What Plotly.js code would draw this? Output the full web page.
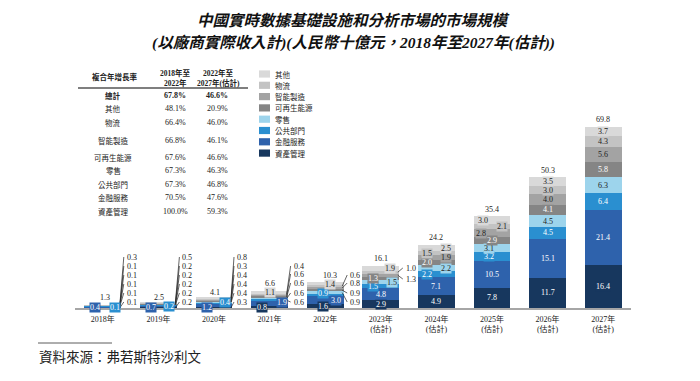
<!DOCTYPE html>
<html><head><meta charset="utf-8">
<script src="https://cdn.plot.ly/plotly-3.0.1.min.js"></script>
<style>body{margin:0;background:#fff}#chart{width:700px;height:381px}</style>
</head><body><div id="chart"></div>
<script>
// ---------------- DATA ----------------
const years = ['2018年','2019年','2020年','2021年','2022年','2023年<br>(估計)','2024年<br>(估計)','2025年<br>(估計)','2026年<br>(估計)','2027年<br>(估計)'];
const seriesNames = ['資產管理','金融服務','公共部門','零售','可再生能源','智能製造','物流','其他'];
const assetMgmt  = [0.1,0.2,0.3,0.8,1.6,2.9,4.9,7.8,11.7,16.4];
const finServ    = [0.4,0.7,1.2,1.9,3.0,4.8,7.1,10.5,15.1,21.4];
const publicSec  = [0.1,0.2,0.4,0.6,0.9,1.5,2.2,3.2,4.5,6.4];
const retail     = [0.1,0.2,0.4,0.6,0.9,1.5,2.2,3.1,4.5,6.3];
const renewable  = [0.1,0.2,0.4,0.6,0.9,1.3,2.0,2.9,4.1,5.8];
const smartMfg   = [0.1,0.2,0.4,0.6,0.8,1.3,1.9,2.8,4.0,5.6];
const logistics  = [0.1,0.2,0.3,0.4,0.6,1.0,1.5,2.1,3.0,4.3];
const others     = [0.3,0.5,0.8,1.1,1.4,1.9,2.5,3.0,3.5,3.7];
const totals     = [1.3,2.5,4.1,6.6,10.3,16.1,24.2,35.4,50.3,69.8];

const cagrRowLabels = ['總計','其他','物流','智能製造','可再生能源','零售','公共部門','金融服務','資產管理'];
const cagr2018to2022 = ['67.8%','48.1%','66.4%','66.8%','67.6%','67.3%','67.3%','70.5%','100.0%'];
const cagr2022to2027 = ['46.6%','20.9%','46.0%','46.1%','46.6%','46.3%','46.8%','47.6%','59.3%'];

const titleLine1 = '中國實時數據基礎設施和分析市場的市場規模';
const titleLine2 = '(以廠商實際收入計)(人民幣十億元，2018年至2027年(估計))';
const sourceText = '資料來源：弗若斯特沙利文';

// ---------------- STYLE ----------------
const seriesVals = [assetMgmt, finServ, publicSec, retail, renewable, smartMfg, logistics, others];
const colors = ['#17375e','#2e62ac','#2a8fd0','#9dd4ec','#858585','#a3a3a3','#c3c3c3','#d9d9d9'];
const textColors = ['#ffffff','#ffffff','#ffffff','#222222','#ffffff','#222222','#222222','#222222'];
const SERIF = '"Liberation Serif", "Noto Sans CJK TC", serif';
const CJK = '"Noto Sans CJK TC", "Liberation Serif", sans-serif';

const L=75, R=631, T=100, B=308;
const PXU = (R-L)/years.length;   // px per category
const YPX = 2.593;                // px per unit
const YMAX = (B-T)/YPX;
const px = x => (x-L)/(R-L);
const py = y => (B-y)/(B-T);
const yData = p => (B-p)/YPX;

// label placement (pixel positions / modes) per year, keyed by series index
const place = [
 {lx:22, tot:{dx:2,p:297}, s:{0:{m:'lead',p:302},1:{m:'box',dx:-8,p:307},2:{m:'box',dx:12,p:307},3:{m:'lead',p:293},4:{m:'lead',p:284},5:{m:'lead',p:275},6:{m:'lead',p:266},7:{m:'lead',p:257}}},
 {lx:22, tot:{dx:1,p:297}, s:{0:{m:'lead',p:302},1:{m:'box',dx:-7,p:307},2:{m:'box',dx:11,p:306},3:{m:'lead',p:293},4:{m:'lead',p:284},5:{m:'lead',p:275},6:{m:'lead',p:266},7:{m:'lead',p:257}}},
 {lx:21, tot:{dx:1,p:292}, s:{0:{m:'lead',p:302},1:{m:'box',dx:-7,p:307},2:{m:'box',dx:11,p:302},3:{m:'lead',p:293},4:{m:'lead',p:284},5:{m:'lead',p:275},6:{m:'lead',p:266},7:{m:'lead',p:257}}},
 {lx:22, tot:{dx:0,p:283}, s:{0:{m:'box',dx:-8,p:307},1:{m:'box',dx:12,p:302},2:{m:'lead',p:302},3:{m:'lead',p:293},4:{m:'lead',p:283},5:{m:'lead',p:274},6:{m:'lead',p:266},7:{m:'box',dx:0,p:292}}},
 {lx:23, tot:{dx:5,p:275}, s:{0:{m:'box',dx:-2,p:306},1:{m:'box',dx:11,p:300},2:{m:'box',dx:-2,p:293},3:{m:'lead',p:302},4:{m:'lead',p:293},5:{m:'lead',p:283},6:{m:'lead',p:275},7:{m:'box',dx:5,p:284}}},
 {lx:23, s:{0:{m:'c'},1:{m:'c'},2:{m:'box',dx:-8},3:{m:'box',dx:11},4:{m:'box',dx:-8},5:{m:'lead',p:279},6:{m:'lead',p:268},7:{m:'box',dx:9}}},
 {lx:23, s:{0:{m:'c'},1:{m:'c'},2:{m:'box',dx:-9},3:{m:'box',dx:10},4:{m:'box',dx:-9},5:{m:'box',dx:10},6:{m:'box',dx:-9},7:{m:'box',dx:10}}},
 {lx:23, s:{0:{m:'c'},1:{m:'c'},2:{m:'box',dx:-3},3:{m:'box',dx:-3},4:{m:'box',dx:0},5:{m:'box',dx:-11},6:{m:'box',dx:10},7:{m:'box',dx:-9}}},
 {lx:23, s:{}},
 {lx:23, s:{}}
];

// ---------------- TRACES ----------------
const traces = seriesNames.map((n,s)=>({
  type:'bar', name:n, x:years, y:seriesVals[s],
  marker:{color:colors[s]}, hoverinfo:'skip'
}));

const ann = [];
const shapes = [];
function pAnn(x, y, text, font, xanchor){
  ann.push({xref:'paper',yref:'paper',x:px(x),y:py(y),xanchor:xanchor||'center',yanchor:'middle',
    showarrow:false,text:text,font:font});
}

// title
pAnn(353, 20, '<b><i>'+titleLine1+'</i></b>', {family:SERIF,size:15.5,color:'#111'});
pAnn(353, 43, '<b><i>'+titleLine2+'</i></b>', {family:SERIF,size:15.5,color:'#111'});

// CAGR table
const colX = [113,175,217];
const rowY = [95,109,122,140,157,170,184,197,211];
pAnn(115, 77, '<b>複合年增長率</b>', {family:CJK,size:7.5,color:'#222'});
pAnn(175, 73, '<b>2018年至</b>', {family:SERIF,size:7.5,color:'#222'});
pAnn(175, 83, '<b>2022年</b>', {family:SERIF,size:7.5,color:'#222'});
pAnn(218, 73, '<b>2022年至</b>', {family:SERIF,size:7.5,color:'#222'});
pAnn(218, 83, '<b>2027年(估計)</b>', {family:SERIF,size:7.5,color:'#222'});
shapes.push({type:'line',xref:'paper',yref:'paper',x0:px(78),x1:px(248),y0:py(88),y1:py(88),line:{color:'#555',width:1.5}});
cagrRowLabels.forEach((lab,k)=>{
  const b = k===0;
  const w = t => b ? '<b>'+t+'</b>' : t;
  pAnn(colX[0], rowY[k], w(lab), {family:CJK,size:7.5,color:'#222'});
  pAnn(colX[1], rowY[k], w(cagr2018to2022[k]), {family:SERIF,size:8,color:'#222'});
  pAnn(colX[2], rowY[k], w(cagr2022to2027[k]), {family:SERIF,size:8,color:'#222'});
});

// legend (top = 其他)
for (let k=0;k<seriesNames.length;k++){
  const s = seriesNames.length-1-k;
  const yc = 74 + k*11.3;
  shapes.push({type:'rect',xref:'paper',yref:'paper',x0:px(259),x1:px(270),y0:py(yc+3.6),y1:py(yc-3.6),line:{width:0},fillcolor:colors[s]});
  pAnn(273, yc, seriesNames[s], {family:CJK,size:7.5,color:'#222'}, 'left');
}

// source
shapes.push({type:'line',xref:'paper',yref:'paper',x0:px(38),x1:px(112),y0:py(343),y1:py(343),line:{color:'#333',width:0.8}});
pAnn(37, 356, sourceText, {family:CJK,size:13.5,color:'#222'}, 'left');

// bar labels
years.forEach((yr,i)=>{
  let cum=0; const mids=[];
  seriesVals.forEach(arr=>{ mids.push(cum+arr[i]/2); cum+=arr[i]; });
  const top = cum;
  const P = place[i];
  seriesVals.forEach((arr,s)=>{
    const spec = P.s[s] || {m:'c'};
    const txt = arr[i].toFixed(1);
    if (spec.m==='lead'){
      const yT = yData(spec.p);
      shapes.push({type:'line',xref:'x',yref:'y',x0:i+17/PXU,y0:mids[s],x1:i+(P.lx-1)/PXU,y1:yT,line:{color:'#222',width:0.7}});
      ann.push({xref:'x',yref:'y',x:i+P.lx/PXU,y:yT,xanchor:'left',yanchor:'middle',showarrow:false,
        text:txt,font:{family:SERIF,size:8,color:'#222'}});
    } else {
      const yv = spec.p!==undefined ? yData(spec.p) : mids[s];
      ann.push({xref:'x',yref:'y',x:i,xshift:spec.dx||0,y:yv,xanchor:'center',yanchor:'middle',showarrow:false,
        text:txt,bgcolor:colors[s],borderpad:0,font:{family:SERIF,size:8,color:textColors[s]}});
    }
  });
  const tp = P.tot;
  ann.push({xref:'x',yref:'y',x:i,xshift:tp?tp.dx:0,y:tp?yData(tp.p):top,yshift:tp?0:7,
    xanchor:'center',yanchor:'middle',showarrow:false,text:totals[i].toFixed(1),font:{family:SERIF,size:8,color:'#222'}});
});

const layout = {
  width:700, height:381,
  margin:{l:L, r:700-R, t:T, b:381-B, pad:0},
  paper_bgcolor:'#fff', plot_bgcolor:'#fff',
  barmode:'stack', bargap:0.34, showlegend:false,
  xaxis:{type:'category', range:[-0.5, years.length-0.5], showline:true, linecolor:'#a6a6a6', linewidth:2,
    ticks:'', ticklabelstandoff:2, showgrid:false, zeroline:false, tickfont:{family:SERIF,size:8,color:'#222'}, fixedrange:true},
  yaxis:{range:[0,YMAX], visible:false, fixedrange:true},
  annotations:ann, shapes:shapes
};
Plotly.newPlot('chart', traces, layout, {displayModeBar:false, staticPlot:true});
</script></body></html>
